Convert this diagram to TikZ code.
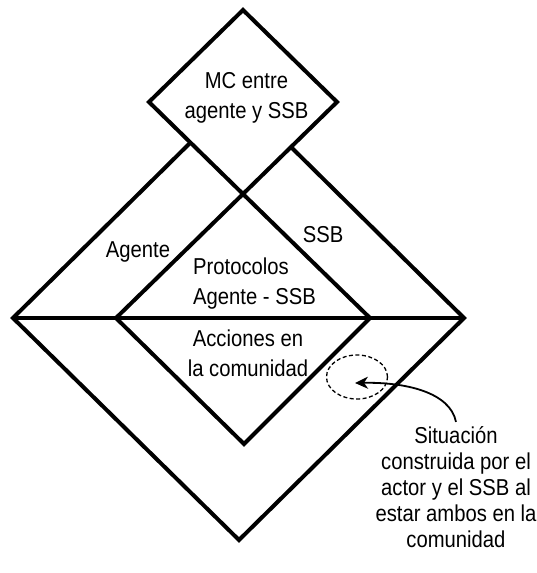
\documentclass[tikz,border=0pt]{standalone}
\usepackage{fontspec}
\setmainfont{Liberation Sans}[FakeStretch=0.88]
\usetikzlibrary{arrows.meta,shapes.geometric}

\tikzset{
  frame/.style={line width=4pt, line join=miter, line cap=butt},
  lbl/.style={font=\fontsize{23}{30}\selectfont, inner sep=0pt},
  note/.style={font=\fontsize{23}{26}\selectfont, inner sep=0pt, align=center},
  ring/.style={draw, ellipse, line width=1.3pt, dash pattern=on 4pt off 2.5pt,
               minimum width=61pt, minimum height=44pt, inner sep=0pt},
  pointer/.style={line width=1.8pt, -{Stealth[length=13pt,width=12pt,inset=4pt]}}
}

\begin{document}
\begin{tikzpicture}[x=1pt, y=-1pt]
\useasboundingbox (0,0) rectangle (536,573);

% top diamond
\coordinate (T) at (243,10);
\coordinate (L) at (149,102);
\coordinate (R) at (337,102);
\coordinate (B) at (243,194);
% inner diamond (shares its top with the bottom of the top diamond)
\coordinate (IL) at (116,318);
\coordinate (IR) at (370,318);
\coordinate (IB) at (244,444);
% outer frame
\coordinate (OL) at (13,318);
\coordinate (OR) at (464,318);
\coordinate (OB) at (239,540);
\coordinate (P1) at (190,143);
\coordinate (P2) at (292,148);

\draw[frame] (T) -- (R) -- (B) -- (L) -- cycle;
\draw[frame] (B) -- (IR) -- (IB) -- (IL) -- cycle;
\draw[frame] (P1) -- (OL) -- (OB) -- (OR) -- (P2);
\draw[frame] (OL) -- (OR);

% labels (base of a multi-line node is the baseline of its last line)
\node[lbl, align=center, anchor=base] (mc) at (246.5,118) {MC entre\\agente y SSB};
\node[lbl, anchor=base] (agente) at (138,257) {Agente};
\node[lbl, anchor=base] (ssb) at (323,242) {SSB};
\node[lbl, align=left, anchor=base west] (proto) at (193,304) {Protocolos\\Agente - SSB};
\node[lbl, align=center, anchor=base] (acc) at (248,376) {Acciones en\\la comunidad};

% situation marker and its note
\node[ring] (zone) at (357,377) {};
\coordinate (tip) at (355,383);
\node[note, anchor=base] (sit) at (456,547)
  {Situación\\construida por el\\actor y el SSB al\\estar ambos en la\\comunidad};
\draw[pointer] ([yshift=4pt]sit.north) .. controls (450,392) and (405,382) .. (tip);
\end{tikzpicture}
\end{document}
